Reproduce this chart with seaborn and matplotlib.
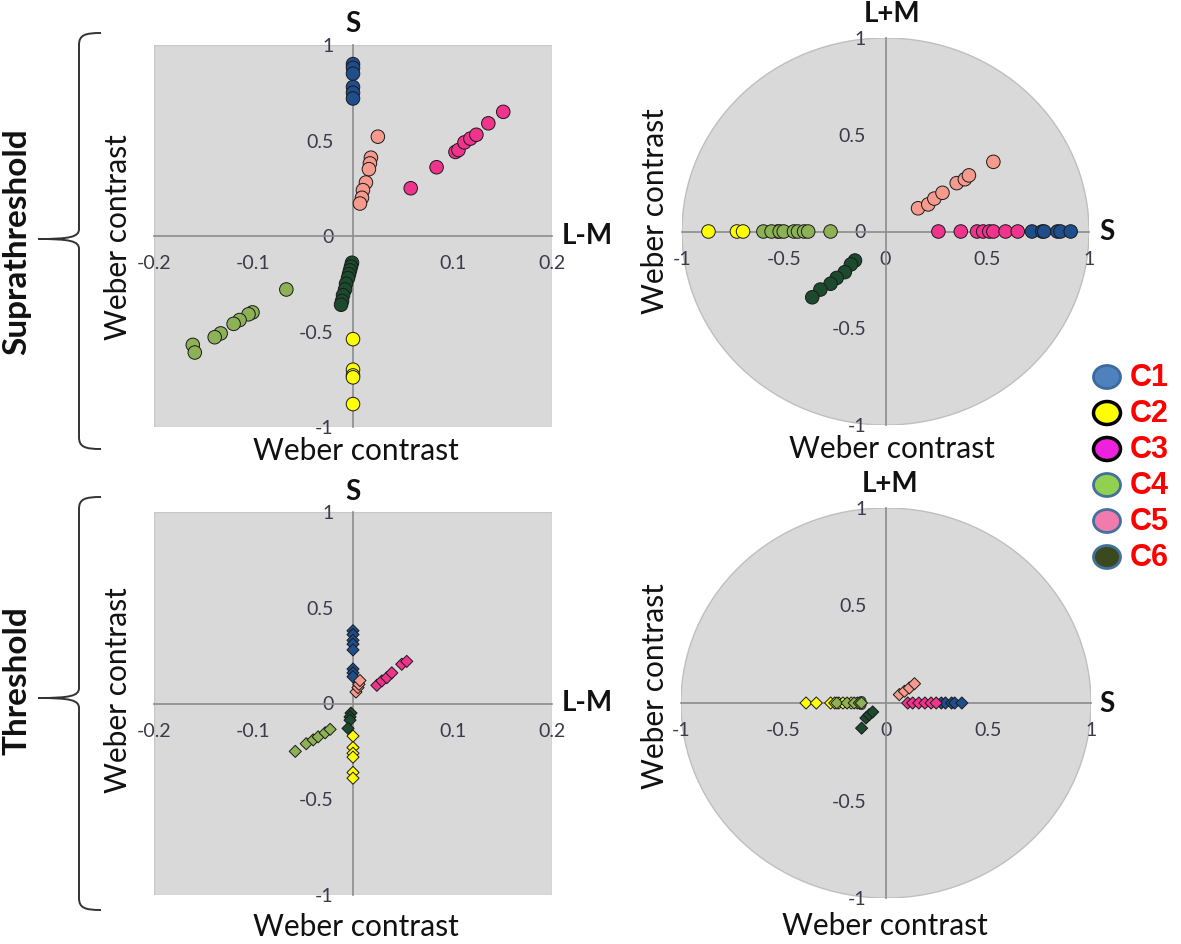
import numpy as np
import pandas as pd
import seaborn as sns
import matplotlib.pyplot as plt
from matplotlib.patches import Ellipse, Rectangle, PathPatch
from matplotlib.path import Path

sns.set_style('white')
plt.rcParams['font.family'] = ['Lato', 'DejaVu Sans']

conds = ['C1', 'C2', 'C3', 'C4', 'C5', 'C6']
point_colors = ['#1F4E8C', '#FFFF00', '#F0338D', '#8DB255', '#F59A8C', '#1C4A2E']
legend_fill = ['#4F81BD', '#FFFF00', '#EE22DD', '#92D050', '#F27BAE', '#3B4A1E']
legend_edge = ['#3A6A9F', '#000000', '#000000', '#41719C', '#41719C', '#41719C']

# suprathreshold, L-M (x) vs S (y)
supra_lms = {
    'C1': ([0, 0, 0, 0, 0, 0], [0.90, 0.88, 0.85, 0.78, 0.75, 0.72]),
    'C2': ([0, 0, 0, 0, 0], [-0.54, -0.70, -0.73, -0.74, -0.88]),
    'C3': ([0.058, 0.084, 0.103, 0.106, 0.112, 0.118, 0.124, 0.136, 0.151],
           [0.25, 0.36, 0.44, 0.45, 0.49, 0.51, 0.53, 0.59, 0.65]),
    'C4': ([-0.067, -0.101, -0.105, -0.114, -0.120, -0.133, -0.139, -0.161, -0.159],
           [-0.28, -0.40, -0.41, -0.44, -0.46, -0.51, -0.53, -0.57, -0.61]),
    'C5': ([0.025, 0.018, 0.017, 0.016, 0.013, 0.010, 0.009, 0.007],
           [0.52, 0.41, 0.38, 0.35, 0.28, 0.24, 0.20, 0.17]),
    'C6': ([-0.001, -0.002, -0.003, -0.004, -0.005, -0.007, -0.008, -0.010, -0.011, -0.012],
           [-0.14, -0.16, -0.18, -0.20, -0.22, -0.25, -0.28, -0.31, -0.34, -0.36]),
}

# suprathreshold, S (x) vs L+M (y)
supra_slm = {
    'C1': ([0.72, 0.77, 0.78, 0.845, 0.86, 0.91], [0, 0, 0, 0, 0, 0]),
    'C2': ([-0.87, -0.73, -0.70, -0.53], [0, 0, 0, 0]),
    'C3': ([0.26, 0.37, 0.45, 0.48, 0.51, 0.53, 0.59, 0.65], [0, 0, 0, 0, 0, 0, 0, 0]),
    'C4': ([-0.60, -0.56, -0.52, -0.50, -0.45, -0.43, -0.40, -0.38, -0.27],
           [0, 0, 0, 0, 0, 0, 0, 0, 0]),
    'C5': ([0.16, 0.21, 0.24, 0.28, 0.35, 0.39, 0.41, 0.53],
           [0.12, 0.14, 0.17, 0.20, 0.25, 0.27, 0.29, 0.36]),
    'C6': ([-0.15, -0.17, -0.20, -0.24, -0.27, -0.32, -0.36],
           [-0.15, -0.17, -0.21, -0.24, -0.27, -0.30, -0.34]),
}

# threshold, L-M (x) vs S (y)
thr_lms = {
    'C1': ([0, 0, 0, 0, 0, 0, 0, 0], [0.38, 0.36, 0.33, 0.31, 0.28, 0.18, 0.16, 0.14]),
    'C2': ([0, 0, 0, 0, 0, 0], [-0.17, -0.23, -0.26, -0.28, -0.36, -0.39]),
    'C3': ([0.024, 0.029, 0.034, 0.039, 0.049, 0.054], [0.095, 0.118, 0.135, 0.16, 0.205, 0.22]),
    'C4': ([-0.058, -0.047, -0.040, -0.035, -0.028, -0.023],
           [-0.25, -0.21, -0.19, -0.174, -0.153, -0.135]),
    'C5': ([0.003, 0.005, 0.006, 0.007], [0.06, 0.083, 0.10, 0.12]),
    'C6': ([-0.002, -0.003, -0.003, -0.005], [-0.05, -0.07, -0.087, -0.13]),
}

# threshold, S (x) vs L+M (y)
thr_slm = {
    'C1': ([0.27, 0.29, 0.32, 0.335, 0.37], [0, 0, 0, 0, 0]),
    'C2': ([-0.39, -0.34, -0.27, -0.25, -0.23, -0.21, -0.17, -0.14], [0, 0, 0, 0, 0, 0, 0, 0]),
    'C3': ([0.106, 0.13, 0.16, 0.19, 0.22, 0.245], [0, 0, 0, 0, 0, 0]),
    'C4': ([-0.24, -0.19, -0.155, -0.13, -0.12], [0, 0, 0, 0, 0]),
    'C5': ([0.065, 0.09, 0.114, 0.139], [0.043, 0.06, 0.077, 0.099]),
    'C6': ([-0.119, -0.098, -0.082, -0.065], [-0.129, -0.077, -0.06, -0.046]),
}


def to_frame(d):
    rows = []
    for c in conds:
        xs, ys = d[c]
        for x, y in zip(xs, ys):
            rows.append({'x': x, 'y': y, 'cond': c})
    return pd.DataFrame(rows)


W, H = 1181, 944
fig = plt.figure(figsize=(W / 100, H / 100), dpi=100)


def px_axes(x0, y0, x1, y1):
    return fig.add_axes([x0 / W, 1 - y1 / H, (x1 - x0) / W, (y1 - y0) / H])


def style_panel(ax, xlim, xticks, xlabels, circle):
    ax.set_xlim(xlim)
    ax.set_ylim(-1, 1)
    for s in ['top', 'right']:
        ax.spines[s].set_visible(False)
    for s in ['left', 'bottom']:
        ax.spines[s].set_position('zero')
        ax.spines[s].set_color('#8C8C8C')
        ax.spines[s].set_linewidth(1.2)
    ax.set_xticks(xticks)
    ax.set_xticklabels(xlabels)
    ax.set_yticks([-1, -0.5, 0, 0.5, 1])
    ax.set_yticklabels(['-1', '-0.5', '0', '0.5', '1'])
    ax.tick_params(direction='out', length=4, width=1, color='#8C8C8C',
                   labelsize=14, labelcolor='#3A3A4A', pad=10)
    ax.set_xlabel('')
    ax.set_ylabel('')
    ax.patch.set_alpha(0)
    if circle:
        ax.add_patch(Ellipse((0, 0), 2, 2, facecolor='#D9D9D9', edgecolor='#BFBFBF',
                             lw=1, zorder=0.5))
    else:
        ax.add_patch(Rectangle((0, 0), 1, 1, transform=ax.transAxes, facecolor='#D9D9D9',
                               edgecolor='#C8C8C8', lw=1, zorder=0.5))


panels = [
    (supra_lms, (154, 45, 552, 427), (-0.2, 0.2), [-0.2, -0.1, 0.1, 0.2],
     ['-0.2', '-0.1', '0.1', '0.2'], False, 'o', 95),
    (supra_slm, (682, 38, 1089, 425), (-1, 1), [-1, -0.5, 0, 0.5, 1],
     ['-1', '-0.5', '0', '0.5', '1'], True, 'o', 95),
    (thr_lms, (154, 512, 552, 895), (-0.2, 0.2), [-0.2, -0.1, 0.1, 0.2],
     ['-0.2', '-0.1', '0.1', '0.2'], False, 'D', 38),
    (thr_slm, (681, 508, 1091, 898), (-1, 1), [-1, -0.5, 0, 0.5, 1],
     ['-1', '-0.5', '0', '0.5', '1'], True, 'D', 38),
]

for data, box, xlim, xt, xl, circ, mk, size in panels:
    ax = px_axes(*box)
    df = to_frame(data)
    sns.scatterplot(data=df, x='x', y='y', hue='cond', hue_order=conds,
                    palette=point_colors, marker=mk, s=size, edgecolor='#1A1A1A',
                    linewidth=0.7, legend=False, zorder=3, ax=ax)
    style_panel(ax, xlim, xt, xl, circ)

# overlay in pixel coordinates for titles, braces and legend
ov = fig.add_axes([0, 0, 1, 1])
ov.set_xlim(0, W)
ov.set_ylim(H, 0)
ov.axis('off')
ov.patch.set_alpha(0)

lab_kw = dict(fontsize=21.5, color='#111111', ha='center', va='center')
bold_kw = dict(fontsize=20, fontweight='bold', color='#111111', ha='center', va='center')

# top-left
ov.text(353, 24, 'S', **bold_kw)
ov.text(587, 236, 'L-M', **bold_kw)
ov.text(118, 237, 'Weber contrast', rotation=90, **lab_kw)
ov.text(356, 451, 'Weber contrast', **lab_kw)
# top-right
ov.text(892, 14, 'L+M', **bold_kw)
ov.text(1107, 232, 'S', **bold_kw)
ov.text(655, 211, 'Weber contrast', rotation=90, **lab_kw)
ov.text(892, 449, 'Weber contrast', **lab_kw)
# bottom-left
ov.text(353, 492, 'S', **bold_kw)
ov.text(587, 703, 'L-M', **bold_kw)
ov.text(118, 690, 'Weber contrast', rotation=90, **lab_kw)
ov.text(356, 927, 'Weber contrast', **lab_kw)
# bottom-right
ov.text(890, 484, 'L+M', **bold_kw)
ov.text(1107, 704, 'S', **bold_kw)
ov.text(655, 686, 'Weber contrast', rotation=90, **lab_kw)
ov.text(885, 926, 'Weber contrast', **lab_kw)

# row labels
ov.text(17, 242, 'Suprathreshold', rotation=90, fontsize=24, fontweight='bold',
        color='#111111', ha='center', va='center')
ov.text(17, 681, 'Threshold', rotation=90, fontsize=24, fontweight='bold',
        color='#111111', ha='center', va='center')


def brace(top, tip, bot, xl=79, xt=38, xe=101):
    verts = [(xe, top), (85, top), (xl, top + 2), (xl, top + 12),
             (xl, tip - 10),
             (xl, tip - 2), (70, tip), (xt, tip),
             (70, tip), (xl, tip + 2), (xl, tip + 10),
             (xl, bot - 12),
             (xl, bot - 2), (85, bot), (xe, bot)]
    codes = [Path.MOVETO, Path.CURVE4, Path.CURVE4, Path.CURVE4,
             Path.LINETO,
             Path.CURVE4, Path.CURVE4, Path.CURVE4,
             Path.CURVE4, Path.CURVE4, Path.CURVE4,
             Path.LINETO,
             Path.CURVE4, Path.CURVE4, Path.CURVE4]
    ov.add_patch(PathPatch(Path(verts, codes), fill=False, edgecolor='#333333', lw=1.4))


brace(33, 239, 449)
brace(497, 698, 910)

# legend
for i, c in enumerate(conds):
    yy = 377 + 36 * i
    ov.add_patch(Ellipse((1107, yy), 27, 23, facecolor=legend_fill[i],
                         edgecolor=legend_edge[i], lw=2.5 if legend_edge[i] == '#000000' else 2))
    ov.text(1130, yy + 1, c, fontsize=22, fontweight='bold', color='#FF0000',
            family=['Liberation Sans', 'DejaVu Sans'], ha='left', va='center')

fig.savefig('out.png', dpi=100)
